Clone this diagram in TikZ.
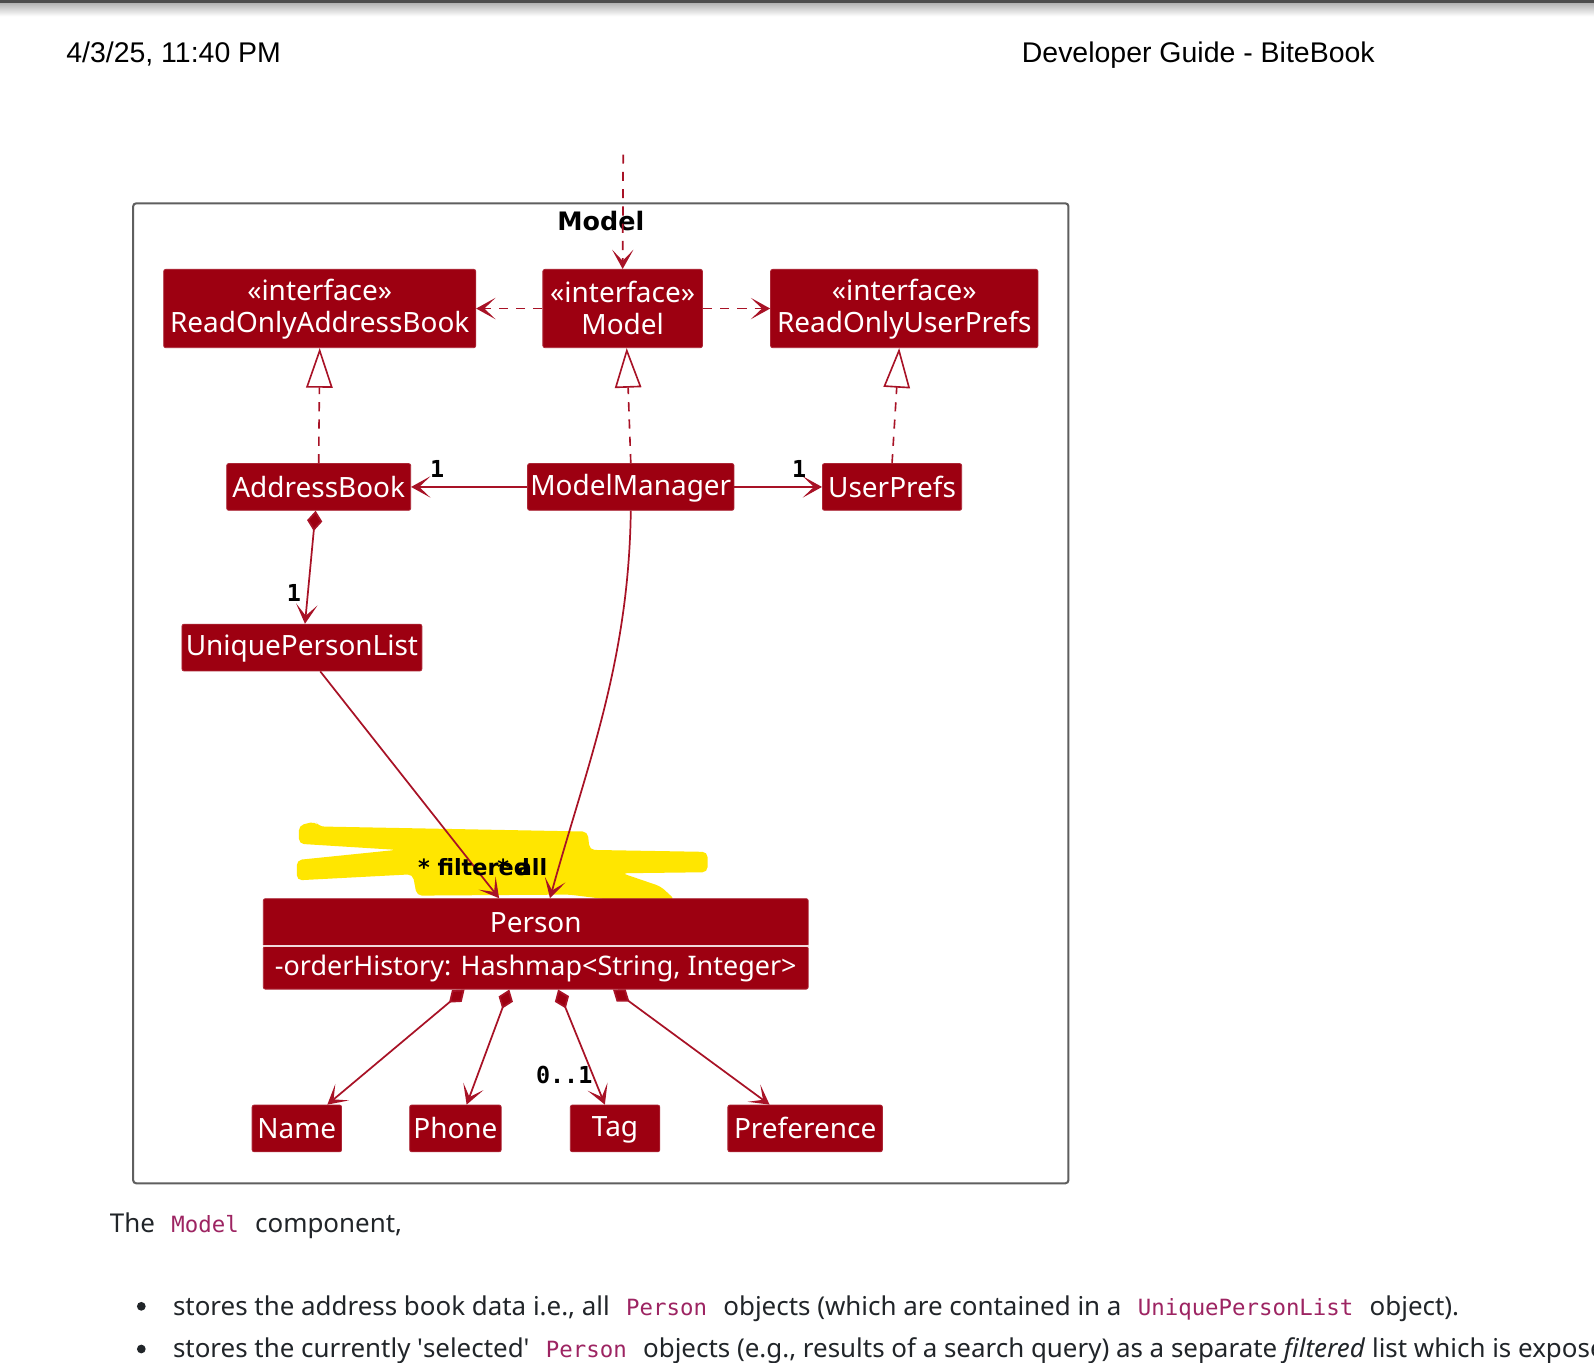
\documentclass[tikz,border=0pt]{standalone}
\usepackage{fontspec}
\setmainfont{Noto Sans}
\newfontfamily\hdrfont{Liberation Sans}
\newfontfamily\codefont{DejaVu Sans Mono}
\newfontfamily\lblfont{DejaVu Sans}
\newfontfamily\multfont{DejaVu Sans Mono}
\usetikzlibrary{arrows.meta,calc}
\definecolor{boxred}{RGB}{157,0,17}
\definecolor{linered}{RGB}{168,18,38}
\definecolor{hiyellow}{RGB}{255,230,0}
\definecolor{codecol}{RGB}{157,36,98}
\definecolor{bodytxt}{RGB}{33,37,41}
\definecolor{framegray}{RGB}{95,95,95}
\newcommand{\bxs}{\rule[-2.5pt]{0pt}{25pt}}
\tikzset{
  umlbox/.style={rectangle, fill=boxred, draw=boxred!85!white, line width=0.8pt, rounded corners=2pt,
    text=white, inner sep=0pt, align=center, font=\fontsize{27.5}{31}\selectfont},
  tipV/.tip={Stealth[length=19pt,width=21pt,inset=11pt,line width=1.6pt]},
  assoc/.style={draw=linered, line width=1.7pt, -tipV},
  depend/.style={assoc, dash pattern=on 9pt off 8pt},
  realize/.style={draw=linered, line width=1.6pt, dash pattern=on 9pt off 8pt,
    -{Triangle[open,length=39pt,width=26pt,fill=white]}},
  compose/.style={draw=linered, line width=1.7pt,
    {Diamond[length=20pt,width=15pt,fill=boxred]}-tipV},
  mult/.style={font=\multfont\bfseries\fontsize{23}{26}\selectfont, text=black, inner sep=0pt},
  rolelbl/.style={font=\lblfont\bfseries\fontsize{22}{26}\selectfont, text=black, inner sep=0pt, anchor=west},
  bodyline/.style={anchor=base west, inner sep=0pt, text=bodytxt, font=\fontsize{25.5}{30}\selectfont},
}
\newcommand{\codeword}[1]{\hspace{9.5pt}{\codefont\fontsize{22}{26}\selectfont\color{codecol}#1}\hspace{9.5pt}}
\begin{document}
\begin{tikzpicture}[x=1pt,y=-1pt]
\useasboundingbox (0,0) rectangle (1568,1340);
\fill[white] (0,0) rectangle (1568,1340);
% browser top shadow
\fill[black!70] (0,0) rectangle (1568,3);
\shade[top color=black!30, bottom color=white] (0,3) rectangle (1568,16);
% header
\node[anchor=base west, inner sep=0pt, font=\hdrfont\fontsize{28}{32}\selectfont] (hdate) at (65,61) {4/3/25, 11:40 PM};
\node[anchor=base west, inner sep=0pt, font=\hdrfont\fontsize{28}{32}\selectfont] (htitle) at (1005,61) {Developer Guide - BiteBook};

% frame
\draw[framegray, line width=2pt, rounded corners=3pt] (131,200) rectangle (1051,1164);
\node[font=\lblfont\bfseries\fontsize{25}{28}\selectfont, inner sep=0pt] (frametitle) at (591,217) {Model};

% highlight scribble
\fill[hiyellow, rounded corners=5pt]
  (294,812) -- (310,808) -- (314,813) -- (578,818) -- (580,836) -- (696,838) -- (696,858)
  -- (612,859) -- (650,872) -- (664,885) -- (600,885) -- (560,880) -- (410,881) -- (406,860)
  -- (292,866) -- (292,846) -- (390,836) -- (294,830) -- cycle;

% boxes
\node[umlbox, minimum width=307pt, minimum height=77pt] (roab) at (314.5,303.5) {\bxs«interface»\\\bxs ReadOnlyAddressBook};
\node[umlbox, minimum width=157pt, minimum height=77pt] (model) at (612.5,303.5) {\bxs«interface»\\\bxs Model};
\node[umlbox, minimum width=263pt, minimum height=77pt] (rour) at (889.5,303.5) {\bxs«interface»\\\bxs ReadOnlyUserPrefs};
\node[umlbox, minimum width=181pt, minimum height=46pt] (ab) at (313.5,479) {\bxs AddressBook};
\node[umlbox, minimum width=203pt, minimum height=46pt] (mm) at (620.5,479) {\bxs ModelManager};
\node[umlbox, minimum width=137pt, minimum height=46pt] (up) at (877.5,479) {\bxs UserPrefs};
\node[umlbox, minimum width=236pt, minimum height=46pt] (upl) at (297,637) {\bxs UniquePersonList};
\node[umlbox, minimum width=536pt, minimum height=47pt] (person) at (527,907.5) {\bxs Person};
\node[umlbox, minimum width=536pt, minimum height=42pt, font=\fontsize{26.5}{31}\selectfont] (attrs) at (527,952) {\bxs -orderHistory: Hashmap<String, Integer>};
\draw[white!85!boxred, line width=1.2pt] (attrs.north west) -- (attrs.north east);
\node[umlbox, minimum width=88pt, minimum height=46pt] (name) at (292,1110) {\bxs Name};
\node[umlbox, minimum width=90pt, minimum height=46pt] (phone) at (448,1110) {\bxs Phone};
\node[umlbox, minimum width=88pt, minimum height=46pt] (tag) at (605,1110) {\bxs Tag};
\node[umlbox, minimum width=152pt, minimum height=46pt] (pref) at (792,1110) {\bxs Preference};

% connectors
\coordinate (topin) at (613,152);
\draw[depend] (topin) -- (model.north);
\draw[depend] (model.west) -- (roab.east);
\draw[depend] (model.east) -- (rour.west);
\draw[realize] (ab.north) -- (roab.south);
\draw[realize] (mm.north) -- ($(model.south)+(4,0)$);
\draw[realize] (up.north) -- ($(rour.south)+(-5,0)$);
\draw[assoc] (mm.west) -- (ab.east);
\draw[assoc] (mm.east) -- (up.west);
\draw[compose] ($(ab.south)+(-3,0)$) -- ($(upl.north)+(3,0)$);
\draw[assoc] ($(upl.south)+(18,0)$) -- ($(person.north)+(-36,0)$);
\draw[assoc] (mm.south) .. controls ($(mm.south)+(-2,150)$) and ($(person.north)+(50,-130)$) .. ($(person.north)+(14,0)$);
\draw[compose] ($(attrs.south)+(-70,0)$) -- ($(name.north)+(30,0)$);
\draw[compose] ($(attrs.south)+(-26,0)$) -- ($(phone.north)+(11,0)$);
\draw[compose] ($(attrs.south)+(22,0)$) -- ($(tag.north)+(-10,0)$);
\draw[compose] ($(attrs.south)+(76,0)$) -- ($(pref.north)+(-35,0)$);

% multiplicities and roles
\node[mult] (m1) at (430,461) {1};
\node[mult] (m2) at (786,461) {1};
\node[mult] (m3) at (289,583) {1};
\node[mult] (m4) at (555,1057) {0..1};
\node[rolelbl] (rfilt) at (411,853) {* filtered};
\node[rolelbl] (rall) at (489,853) {* all};

% body text
\node[bodyline] (intro) at (108,1212) {The \codeword{Model} component,};
\fill[bodytxt] (139,1285) circle (4.3pt);
\node[bodyline] (b1) at (170,1294) {stores the address book data i.e., all \codeword{Person} objects (which are contained in a \codeword{UniquePersonList} object).};
\fill[bodytxt] (139,1327) circle (4.3pt);
\begin{scope}
\clip (0,1290) rectangle (1568,1340);
\node[bodyline] (b2) at (170,1335) {stores the currently \textquotesingle selected\textquotesingle\ \codeword{Person} objects (e.g., results of a search query) as a separate \textit{filtered} list which is exposed};
\end{scope}
\end{tikzpicture}
\end{document}
